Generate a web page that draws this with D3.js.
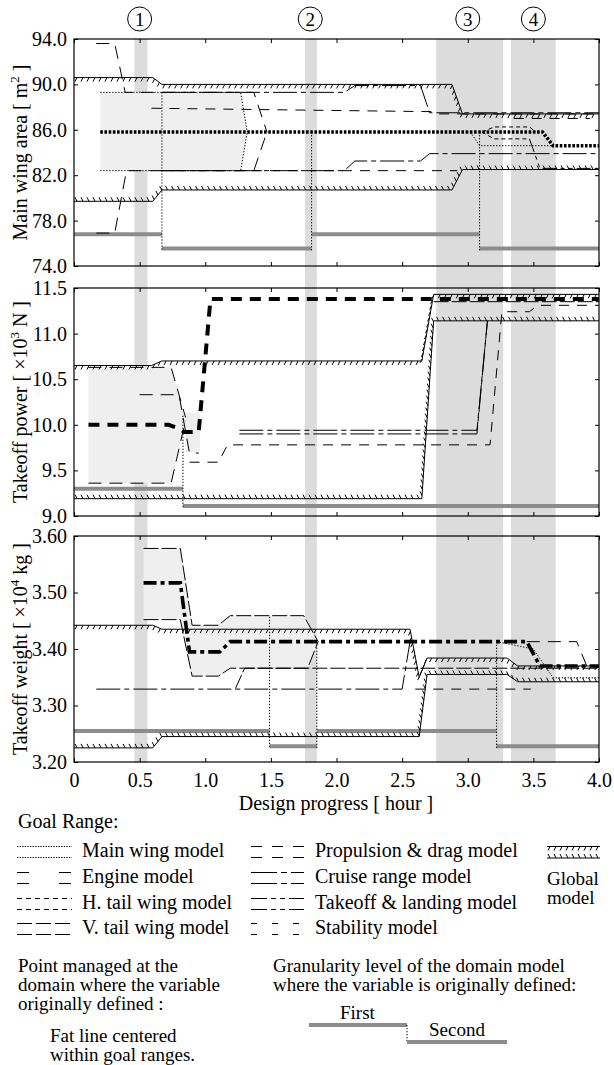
<!DOCTYPE html>
<html>
<head>
<meta charset="utf-8">
<script src="https://cdn.jsdelivr.net/npm/d3@7"></script>
<style>
body { margin: 0; background: #fff; }
text { font-family: "Liberation Serif", "Times New Roman", serif; fill: #000; }
</style>
</head>
<body>
<script>
// design phases (shaded columns) and their circled numbers
var bandStart = [0.46, 1.76, 2.76, 3.33],
    bandEnd   = [0.56, 1.85, 3.27, 3.67],
    phaseAt   = [0.5, 1.8, 3.0, 3.5],
    phaseLabels = ["1", "2", "3", "4"];

var xTicks = [0, 0.5, 1, 1.5, 2, 2.5, 3, 3.5, 4],
    areaTicks = [74, 78, 82, 86, 90, 94],
    powerTicks = [9, 9.5, 10, 10.5, 11, 11.5],
    weightTicks = [3.2, 3.3, 3.4, 3.5, 3.6];

// ---- main wing area [m2]
var areaGlobalHi = [[0,90.6],[0.6,90.6],[0.67,90.0],[2.88,90.0],[2.96,87.4],[4,87.4]],
    areaGlobalLo = [[0,79.7],[0.6,79.7],[0.67,80.7],[2.88,80.7],[2.96,82.5],[4,82.5]],
    areaMainHi = [[0.2,89.3],[1.27,89.3],[1.32,85.8]],
    areaMainLo = [[0.2,82.4],[1.27,82.4],[1.32,85.8]],
    areaMainLate = [[3.02,85.8],[3.09,84.6],[3.65,84.6]],
    areaEngineHi = [[0.17,93.6],[0.31,93.6],[0.39,89.3],[1.37,89.3],[1.47,85.8]],
    areaEngineLo = [[0.17,76.9],[0.31,76.9],[0.4,82.4],[1.37,82.4],[1.47,85.8]],
    areaCruiseHi = [[0.67,89.3],[2.06,89.3],[2.14,89.9],[2.64,89.9],[2.71,87.5],[4,87.5]],
    areaCruiseLo = [[0.67,82.4],[2.06,82.4],[2.14,83.25],[2.64,83.25],[2.71,83.9],[4,83.9]],
    areaPropHi = [[0.59,87.9],[2.72,87.6],[2.78,87.4],[4,87.4]],
    areaPropLo = [[0.67,82.4],[2.92,82.4]],
    areaPropLate = [[3.35,87.0],[3.93,87.0]],
    areaHtailHi = [[3.11,85.8],[3.2,86.25],[3.47,86.25],[3.52,85.8]],
    areaHtailLo = [[3.11,85.8],[3.2,85.2],[3.47,85.2]],
    areaTakeoff = [[3.47,85.2],[3.55,82.6],[4,82.6]],
    areaPoint = [[0.2,85.8],[3.57,85.8],[3.65,84.6],[4,84.6]],
    areaFill = [[0.2,89.3],[1.27,89.3],[1.32,85.8],[1.27,82.4],[0.2,82.4]],
    areaGranX = [0, 0.67, 1.81, 3.09, 4],
    areaGranLevel = [76.8, 75.55, 76.8, 75.55],
    areaGranTop = [89.3, 85.8, 85.8];

// ---- takeoff power [x10^3 N]
var powerGlobalHi = [[0,10.65],[0.59,10.65],[0.67,10.7],[2.65,10.7],[2.74,11.43],[4,11.43]],
    powerGlobalLo = [[0,9.19],[2.65,9.19],[2.74,11.14],[4,11.14]],
    powerEngineHi = [[0.11,10.63],[0.74,10.63],[0.85,10.08]],
    powerEngineLo = [[0.11,9.36],[0.74,9.36],[0.85,10.05]],
    powerPropHi = [[0.5,10.33],[0.8,10.33],[0.88,9.69],[0.95,9.69]],
    powerPropLo = [[0.88,9.59],[1.1,9.59],[1.17,9.78],[3.17,9.78],[3.26,11.24],[3.47,11.24],[3.53,11.31],[4,11.31]],
    powerCruiseHi = [[1.26,9.94],[3.07,9.94],[3.15,11.14]],
    powerCruiseLo = [[1.26,9.9],[3.07,9.9],[3.15,11.14]],
    powerVtail = [[2.74,11.35],[4,11.35]],
    powerPoint = [[0.11,10.0],[0.72,10.0],[0.8,9.96],[0.84,9.92],[0.95,9.92],[1.04,11.38],[4,11.38]],
    powerFill = [[0.11,10.63],[0.74,10.63],[0.85,10.08],[0.74,9.36],[0.11,9.36]],
    powerFill2 = [[0.85,10.13],[0.96,10.13],[0.96,9.7],[0.85,9.7]],
    powerGranX = [0, 0.83, 4],
    powerGranLevel = [9.3, 9.11],
    powerGranTop = [10.1];

// ---- takeoff weight [x10^4 kg]
var weightGlobalHi = [[0,3.442],[0.6,3.442],[0.67,3.435],[2.56,3.435],[2.63,3.35],[2.69,3.384],[3.3,3.384],[3.38,3.37],[4,3.37]],
    weightGlobalLo = [[0,3.225],[0.6,3.225],[0.67,3.245],[2.63,3.245],[2.69,3.355],[3.3,3.355],[3.38,3.342],[4,3.342]],
    weightRangeHi = [[0.53,3.578],[0.81,3.578],[0.9,3.442],[1.1,3.442],[1.19,3.459],[1.75,3.459],[1.86,3.413]],
    weightRangeLo = [[0.53,3.452],[0.81,3.452],[0.9,3.352],[1.1,3.352],[1.19,3.366],[1.78,3.366],[1.86,3.413]],
    weightCruise = [[0.17,3.329],[2.5,3.329],[2.56,3.413]],
    weightVtail = [[1.23,3.33],[1.3,3.366],[4,3.366]],
    weightProp = [[2.6,3.329],[3.48,3.329]],
    weightEngine = [[3.45,3.413],[3.83,3.413],[3.91,3.368],[4,3.368]],
    weightMain = [[3.22,3.413],[3.5,3.4],[3.65,3.349],[4,3.349]],
    weightPoint = [[0.53,3.517],[0.81,3.517],[0.88,3.395],[1.11,3.395],[1.19,3.413],[3.45,3.413],[3.55,3.37],[4,3.37]],
    weightFill = [[0.53,3.578],[0.81,3.578],[0.9,3.442],[1.1,3.442],[1.19,3.459],[1.75,3.459],[1.86,3.413],
                  [1.78,3.366],[1.19,3.366],[1.1,3.352],[0.9,3.352],[0.81,3.452],[0.53,3.452]],
    weightGranX = [0, 1.49, 1.85, 3.22, 4],
    weightGranLevel = [3.255, 3.228, 3.255, 3.228],
    weightGranTop = [3.457, 3.413, 3.413];

var legendLeft = ["Main wing model", "Engine model", "H. tail wing model", "V. tail wing model"],
    legendRight = ["Propulsion & drag model", "Cruise range model", "Takeoff & landing model", "Stability model"];

// line styles of the domain models
var styles = {
  main:    {chart: "1.3,1.7",       legend: "1.3,1.3"},
  engine:  {chart: "13,8",          legend: "12,30"},
  htail:   {chart: "4,3",           legend: "5,4"},
  vtail:   {chart: "15,3",          legend: "15,4"},
  prop:    {chart: "10,8",          legend: "11,10"},
  cruise:  {chart: "24,4,5,4",      legend: "26,4,6,4"},
  takeoff: {chart: "14,4,4,4,4,4",  legend: "16,4,5,4,5,4"},
  stab:    {chart: "5,12",          legend: "6,15"}
};
var legendLeftStyle = ["main", "engine", "htail", "vtail"],
    legendRightStyle = ["prop", "cruise", "takeoff", "stab"];

var width = 614, height = 1065;
var svg = d3.select("body").append("svg").attr("width", width).attr("height", height);
svg.append("rect").attr("width", width).attr("height", height).attr("fill", "#fff");

var x = d3.scaleLinear().domain([0, 4]).range([74, 599]);

var panels = [
  {id: "area", y: d3.scaleLinear().domain([74, 94]).range([266, 39]), ticks: areaTicks, fmt: d3.format(".1f"),
   fills: [areaFill], granX: areaGranX, granLevel: areaGranLevel, granTop: areaGranTop,
   lines: [[areaMainHi,"main"],[areaMainLo,"main"],[areaMainLate,"main"],[areaEngineHi,"engine"],[areaEngineLo,"engine"],
           [areaCruiseHi,"cruise"],[areaCruiseLo,"cruise"],[areaPropHi,"prop"],[areaPropLo,"prop"],[areaPropLate,"prop"],
           [areaHtailHi,"htail"],[areaHtailLo,"htail"],[areaTakeoff,"takeoff"]],
   hi: areaGlobalHi, lo: areaGlobalLo, point: areaPoint, fat: {dash: "2.6,1.6", w: 3.5},
   label: ["Main wing area [ m", "2", " ]"]},
  {id: "power", y: d3.scaleLinear().domain([9, 11.5]).range([516, 288]), ticks: powerTicks, fmt: d3.format(".1f"),
   fills: [powerFill, powerFill2], granX: powerGranX, granLevel: powerGranLevel, granTop: powerGranTop,
   lines: [[powerEngineHi,"engine"],[powerEngineLo,"engine"],[powerPropHi,"engine"],[powerPropLo,"prop"],
           [powerCruiseHi,"cruise"],[powerCruiseLo,"cruise"],[powerVtail,"vtail"]],
   hi: powerGlobalHi, lo: powerGlobalLo, point: powerPoint, fat: {dash: "11,8", w: 4},
   label: ["Takeoff power [ \u00d710", "3", " N ]"]},
  {id: "weight", y: d3.scaleLinear().domain([3.2, 3.6]).range([762, 536]), ticks: weightTicks, fmt: d3.format(".2f"),
   fills: [weightFill], granX: weightGranX, granLevel: weightGranLevel, granTop: weightGranTop,
   lines: [[weightRangeHi,"vtail"],[weightRangeLo,"vtail"],[weightCruise,"cruise"],[weightVtail,"vtail"],
           [weightProp,"prop"],[weightEngine,"engine"],[weightMain,"main"]],
   hi: weightGlobalHi, lo: weightGlobalLo, point: weightPoint, fat: {dash: "13,4,4,4", w: 3.6},
   label: ["Takeoff weight [ \u00d710", "4", " kg ]"]}
];

// shaded phase columns run through all three panels
svg.selectAll(".band").data(bandStart).enter().append("rect")
  .attr("class", "band")
  .attr("x", function(d) { return x(d); })
  .attr("y", 39)
  .attr("width", function(d, i) { return x(bandEnd[i]) - x(d); })
  .attr("height", 763 - 39)
  .attr("fill", "#dcdcdc");

var phase = svg.selectAll(".phase").data(phaseAt).enter().append("g")
  .attr("transform", function(d) { return "translate(" + x(d) + ",19)"; });
phase.append("circle").attr("r", 12).attr("fill", "none").attr("stroke", "#000").attr("stroke-width", 1);
phase.append("text").attr("text-anchor", "middle").attr("dy", "0.35em").attr("font-size", 19)
  .text(function(d, i) { return phaseLabels[i]; });

function hatch(g, node, up) {
  var len = node.getTotalLength();
  for (var l = 3; l < len; l += 6) {
    var p = node.getPointAtLength(l);
    g.append("line")
      .attr("x1", p.x).attr("y1", p.y)
      .attr("x2", p.x - 2).attr("y2", up ? p.y - 4 : p.y + 4)
      .attr("stroke", "#000").attr("stroke-width", 1);
  }
}

panels.forEach(function(p) {
  var y = p.y;
  var line = d3.line().x(function(d) { return x(d[0]); }).y(function(d) { return y(d[1]); });
  var g = svg.append("g").attr("class", p.id);

  p.fills.forEach(function(f) {
    g.append("path").attr("d", line(f) + "Z").attr("fill", "#efefef");
  });

  // granularity level (gray steps)
  for (var i = 0; i < p.granLevel.length; i++) {
    g.append("line")
      .attr("x1", x(p.granX[i])).attr("x2", x(p.granX[i + 1]))
      .attr("y1", y(p.granLevel[i])).attr("y2", y(p.granLevel[i]))
      .attr("stroke", "#8c8c8c").attr("stroke-width", 4);
  }
  for (var j = 0; j < p.granTop.length; j++) {
    g.append("line")
      .attr("x1", x(p.granX[j + 1])).attr("x2", x(p.granX[j + 1]))
      .attr("y1", y(p.granTop[j])).attr("y2", y(Math.min(p.granLevel[j], p.granLevel[j + 1])) + 2)
      .attr("stroke", "#000").attr("stroke-width", 1).attr("stroke-dasharray", "1.3,1.7");
  }

  p.lines.forEach(function(l) {
    g.append("path").attr("d", line(l[0])).attr("fill", "none")
      .attr("stroke", "#000").attr("stroke-width", 1)
      .attr("stroke-dasharray", styles[l[1]].chart);
  });

  var hi = g.append("path").attr("d", line(p.hi)).attr("fill", "none").attr("stroke", "#000").attr("stroke-width", 1);
  hatch(g, hi.node(), false);
  var lo = g.append("path").attr("d", line(p.lo)).attr("fill", "none").attr("stroke", "#000").attr("stroke-width", 1);
  hatch(g, lo.node(), true);

  g.append("path").attr("d", line(p.point)).attr("fill", "none")
    .attr("stroke", "#000").attr("stroke-width", p.fat.w)
    .attr("stroke-dasharray", p.fat.dash);

  // frame and inward ticks
  var top = y.range()[1], bottom = y.range()[0];
  g.append("rect").attr("x", 74).attr("y", top).attr("width", 599 - 74).attr("height", bottom - top)
    .attr("fill", "none").attr("stroke", "#000").attr("stroke-width", 1.2);

  var yl = g.append("g").attr("transform", "translate(74,0)")
    .call(d3.axisLeft(y).tickValues(p.ticks).tickFormat(p.fmt).tickSizeInner(-4).tickSizeOuter(0).tickPadding(7));
  var yr = g.append("g").attr("transform", "translate(599,0)")
    .call(d3.axisRight(y).tickValues(p.ticks).tickFormat("").tickSizeInner(-4).tickSizeOuter(0));
  var xt = g.append("g").attr("transform", "translate(0," + top + ")")
    .call(d3.axisTop(x).tickValues(xTicks).tickFormat("").tickSizeInner(-4).tickSizeOuter(0));
  var xb = g.append("g").attr("transform", "translate(0," + bottom + ")")
    .call(d3.axisBottom(x).tickValues(xTicks)
      .tickFormat(p.id == "weight" ? function(d) { return d == 0 ? "0" : d3.format(".1f")(d); } : "")
      .tickSizeInner(-4).tickSizeOuter(0).tickPadding(11));
  [yl, yr, xt, xb].forEach(function(a) {
    a.select(".domain").remove();
    a.attr("font-family", "Liberation Serif, serif").attr("font-size", 20);
    a.selectAll("line").attr("stroke", "#000");
    a.selectAll("text").attr("fill", "#000");
  });

  var lab = svg.append("text")
    .attr("transform", "translate(27," + ((top + bottom) / 2) + ") rotate(-90)")
    .attr("text-anchor", "middle").attr("font-size", 20);
  lab.append("tspan").text(p.label[0]);
  lab.append("tspan").attr("dy", -8).attr("font-size", 13).text(p.label[1]);
  lab.append("tspan").attr("dy", 8).text(p.label[2]);
});

svg.append("text").attr("x", 336).attr("y", 810).attr("text-anchor", "middle").attr("font-size", 20)
  .text("Design progress [ hour ]");

// ---- legend
svg.append("text").attr("x", 18).attr("y", 828).attr("font-size", 20).text("Goal Range:");
var rowY = [857, 883, 909, 934];

function legendSample(x0, x1, yb, dash) {
  [yb - 10.5, yb + 0.5].forEach(function(yy) {
    svg.append("line").attr("x1", x0).attr("x2", x1).attr("y1", yy).attr("y2", yy)
      .attr("stroke", "#000").attr("stroke-width", 1.1).attr("stroke-dasharray", dash);
  });
}
legendLeft.forEach(function(t, i) {
  legendSample(17, 72, rowY[i], styles[legendLeftStyle[i]].legend);
  svg.append("text").attr("x", 82).attr("y", rowY[i]).attr("font-size", 20).text(t);
});
legendRight.forEach(function(t, i) {
  legendSample(251, 304, rowY[i], styles[legendRightStyle[i]].legend);
  svg.append("text").attr("x", 315).attr("y", rowY[i]).attr("font-size", 20).text(t);
});

var gl = svg.append("g");
var ghi = gl.append("path").attr("d", "M547,846.5L600,846.5").attr("stroke", "#000").attr("stroke-width", 1);
hatch(gl, ghi.node(), false);
var glo = gl.append("path").attr("d", "M547,858L600,858").attr("stroke", "#000").attr("stroke-width", 1);
hatch(gl, glo.node(), true);
svg.append("text").attr("x", 547).attr("y", 885).attr("font-size", 19).text("Global");
svg.append("text").attr("x", 547).attr("y", 904).attr("font-size", 19).text("model");

["Point managed at the", "domain where the variable", "originally defined :"].forEach(function(t, i) {
  svg.append("text").attr("x", 18).attr("y", 972 + i * 19).attr("font-size", 19).text(t);
});
["Fat line centered", "within goal ranges."].forEach(function(t, i) {
  svg.append("text").attr("x", 50).attr("y", 1042 + i * 19).attr("font-size", 19).text(t);
});
["Granularity level of the domain model", "where the variable is originally defined:"].forEach(function(t, i) {
  svg.append("text").attr("x", 273).attr("y", 972 + i * 19).attr("font-size", 19).text(t);
});

svg.append("line").attr("x1", 309).attr("x2", 407).attr("y1", 1025).attr("y2", 1025)
  .attr("stroke", "#8c8c8c").attr("stroke-width", 4);
svg.append("line").attr("x1", 407).attr("x2", 407).attr("y1", 1025).attr("y2", 1042)
  .attr("stroke", "#000").attr("stroke-width", 1).attr("stroke-dasharray", "1.3,1.7");
svg.append("line").attr("x1", 407).attr("x2", 507).attr("y1", 1042).attr("y2", 1042)
  .attr("stroke", "#8c8c8c").attr("stroke-width", 4);
svg.append("text").attr("x", 340).attr("y", 1019).attr("font-size", 19).text("First");
svg.append("text").attr("x", 429).attr("y", 1036).attr("font-size", 19).text("Second");
</script>
</body>
</html>
